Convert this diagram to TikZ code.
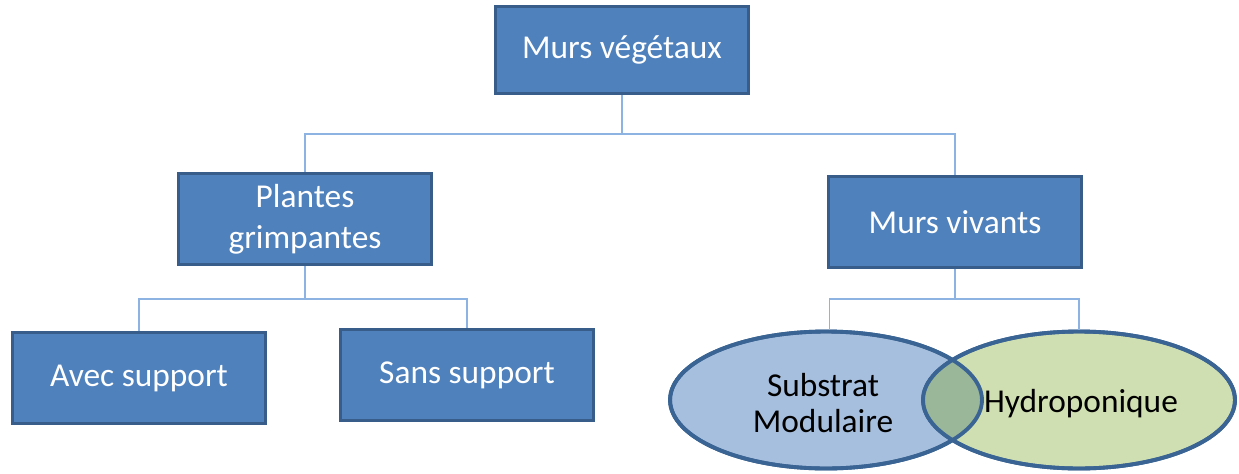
\documentclass[tikz,border=0pt]{standalone}
\usepackage{fontspec}
\setmainfont{Carlito}
\usetikzlibrary{shapes.geometric,positioning}
\definecolor{boxfill}{HTML}{4F81BD}
\definecolor{boxline}{HTML}{385D8A}
\definecolor{wirecol}{HTML}{8DB3E2}
\definecolor{subfill}{HTML}{A7BFDE}
\definecolor{hydfill}{HTML}{D0DFB1}
\definecolor{bothfill}{HTML}{9BB79A}
\definecolor{ovalline}{HTML}{3A6493}

\begin{document}
\begin{tikzpicture}[x=0.02cm,y=-0.02cm,
    every node/.style={inner sep=2pt},
    blockbox/.style={draw=boxline,line width=1.5pt,fill=boxfill,text=white,
      minimum width=5.05cm,minimum height=1.75cm,align=center,
      font=\fontsize{19}{23.5}\selectfont},
    oval/.style={ellipse,draw=ovalline,line width=2.2pt,inner sep=0pt,
      minimum width=6.24cm,minimum height=2.74cm},
    ovaltext/.style={align=center,font=\fontsize{19}{20.5}\selectfont},
    wire/.style={draw=wirecol,line width=0.8pt}]
  \useasboundingbox (0,0) rectangle (1239,473);
  % boxes
  \node[blockbox] (top) at (622,50) {Murs végétaux};
  \node[blockbox,minimum height=1.82cm] (plantes) at (305,219) {Plantes\\grimpantes};
  \node[blockbox,minimum height=1.82cm] (vivants) at (955,222) {Murs vivants};
  \node[blockbox,minimum height=1.82cm] (avec) at (139,378) {Avec support};
  \node[blockbox,minimum height=1.82cm] (sans) at (467,375) {Sans support};
  % ovals
  \node[oval,fill=subfill] (substrat) at (826,400) {};
  \node[oval,fill=hydfill] (hydro) at (1079,400) {};
  \begin{scope}
    \clip (substrat.center) ellipse [x radius=3.12cm, y radius=1.37cm];
    \fill[bothfill] (hydro.center) ellipse [x radius=3.12cm, y radius=1.37cm];
  \end{scope}
  \draw[ovalline,line width=2.2pt] (substrat.center) ellipse [x radius=3.12cm, y radius=1.37cm]
    (hydro.center) ellipse [x radius=3.12cm, y radius=1.37cm];
  \node[ovaltext] (substrattext) at (823,403) {Substrat\\Modulaire};
  \node[ovaltext] (hydrotext) at (1081,404) {Hydroponique};
  % connectors
  \draw[wire] (top.south) -- ++(0,39) -| (plantes.north);
  \draw[wire] (top.south) -- ++(0,39) -| (vivants.north);
  \draw[wire] (plantes.south) -- ++(0,33) -| (avec.north);
  \draw[wire] (plantes.south) -- ++(0,33) -| (sans.north);
  \draw[wire] (vivants.south) -- ++(0,30) -| ([xshift=2pt]substrat.north);
  \draw[wire] (vivants.south) -- ++(0,30) -| (hydro.north);
\end{tikzpicture}
\end{document}
